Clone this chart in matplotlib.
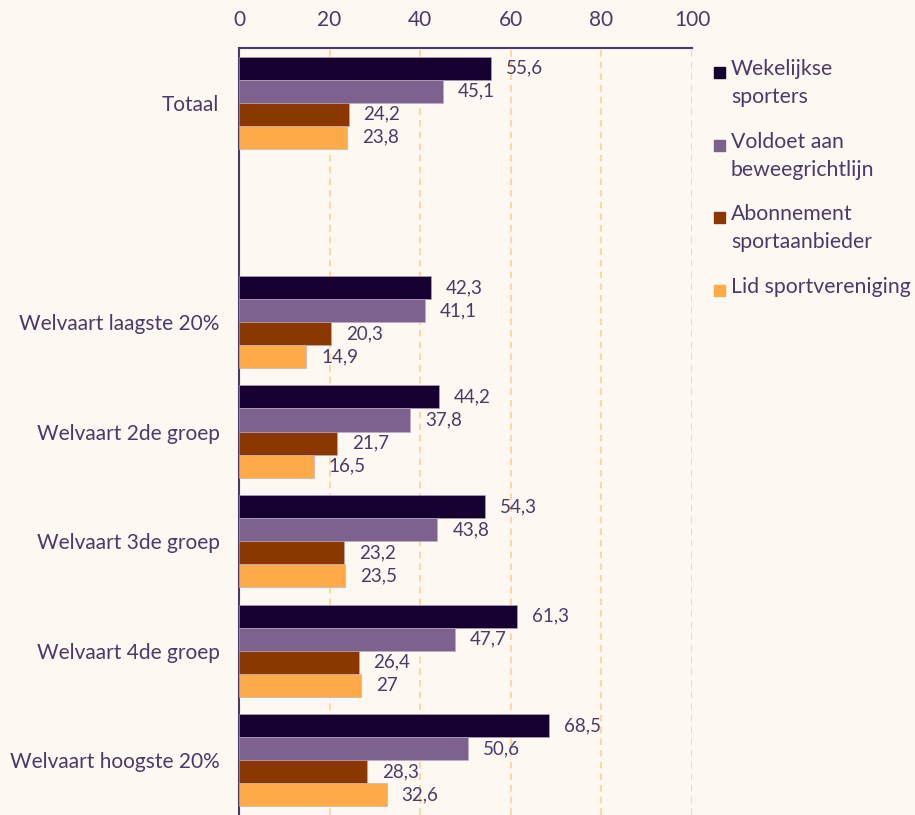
import matplotlib.pyplot as plt
from matplotlib.patches import Rectangle
import numpy as np

plt.rcParams['font.family'] = ['Lato', 'DejaVu Sans']

categories = ['Totaal', '', 'Welvaart laagste 20%', 'Welvaart 2de groep',
              'Welvaart 3de groep', 'Welvaart 4de groep', 'Welvaart hoogste 20%']
series = ['Wekelijkse\nsporters', 'Voldoet aan\nbeweegrichtlijn',
          'Abonnement\nsportaanbieder', 'Lid sportvereniging']
wekelijks = [55.6, None, 42.3, 44.2, 54.3, 61.3, 68.5]
beweeg = [45.1, None, 41.1, 37.8, 43.8, 47.7, 50.6]
abonnement = [24.2, None, 20.3, 21.7, 23.2, 26.4, 28.3]
lid = [23.8, None, 14.9, 16.5, 23.5, 27, 32.6]
colors = ['#15002f', '#7d6290', '#8a3800', '#ffab4a']

bg = '#fdf8f1'
txt = '#4b3b68'

fig = plt.figure(figsize=(9.15, 8.15), dpi=100, facecolor=bg)
ax = fig.add_axes([0.2612, 0.0, 0.4951, 0.9411])
ax.set_facecolor(bg)

h = 0.21
y = np.arange(len(categories))
for i, vals in enumerate([wekelijks, beweeg, abonnement, lid]):
    for j, v in enumerate(vals):
        if v is None:
            continue
        yy = y[j] + (i - 1.5) * h
        ax.barh(yy, v, height=h, color=colors[i], edgecolor='#b9adc4', linewidth=0.4, zorder=3)
        lab = ('%g' % v).replace('.', ',')
        ax.text(v + 3.3, yy, lab, va='center', ha='left', fontsize=13.5, color=txt, zorder=4)

ax.set_xlim(0, 100)
ax.set_ylim(6.5, -0.5)
ax.set_xticks([0, 20, 40, 60, 80, 100])
ax.xaxis.tick_top()
ax.tick_params(axis='x', length=0, pad=13, labelsize=15, labelcolor=txt)
ax.set_yticks(y)
ax.set_yticklabels(categories)
ax.tick_params(axis='y', length=0, pad=14, labelsize=15, labelcolor=txt)
for x in [20, 40, 60, 80, 100]:
    ax.axvline(x, color='#ffcf94', linestyle=(0, (4, 3)), linewidth=1.2, zorder=1)
for s in ['right', 'bottom']:
    ax.spines[s].set_visible(False)
for s in ['top', 'left']:
    ax.spines[s].set_color('#4b3b68')
    ax.spines[s].set_linewidth(1.5)

# legend drawn by hand so the square lines up with the first text line
leg_y = [1 - 72 / 815, 1 - 145 / 815, 1 - 217 / 815, 1 - 290 / 815]
for name, c, ly in zip(series, colors, leg_y):
    fig.patches.append(Rectangle((714 / 915, ly - 6 / 815), 11 / 915, 11 / 815,
                                 transform=fig.transFigure, color=c, figure=fig))
    fig.text(731 / 915, ly + 13 / 815, name, ha='left', va='top', fontsize=15.3,
             color=txt, linespacing=1.5)

fig.savefig('out.png', dpi=100, facecolor=bg)
